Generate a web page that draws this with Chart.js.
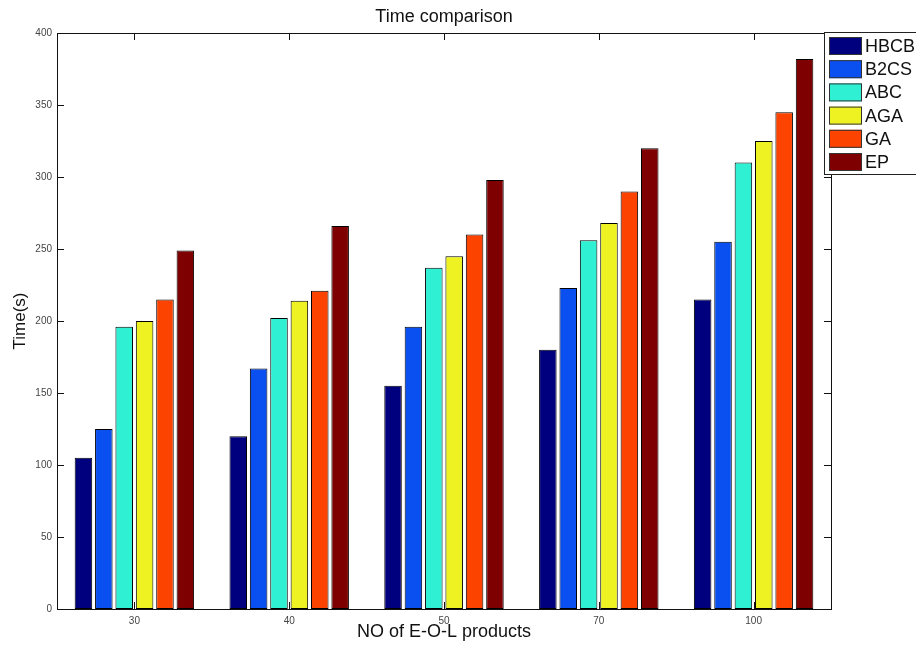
<!DOCTYPE html>
<html>
<head>
<meta charset="utf-8">
<script src="https://cdn.jsdelivr.net/npm/chart.js@4"></script>
<style>
  html, body { margin: 0; padding: 0; background: #fff; }
  #wrap { width: 916px; height: 651px; }
</style>
</head>
<body>
<div id="wrap"><canvas id="timeChart" width="916" height="651"></canvas></div>
<script>
const categories = ['30', '40', '50', '70', '100'];
const seriesNames = ['HBCB', 'B2CS', 'ABC', 'AGA', 'GA', 'EP'];
const hbcb = [105, 120, 155, 180, 215];
const b2cs = [125, 167, 196, 223, 255];
const abc = [196, 202, 237, 256, 310];
const aga = [200, 214, 245, 268, 325];
const ga = [215, 221, 260, 290, 345];
const ep = [249, 266, 298, 320, 382];
const yTicks = [0, 50, 100, 150, 200, 250, 300, 350, 400];

const colors = ['#00007f', '#0a50f0', '#30f0d4', '#eef222', '#fc4300', '#7f0000'];
const FONT = '"Liberation Sans", Arial, sans-serif';

const values = [hbcb, b2cs, abc, aga, ga, ep];

// white background, box, inward ticks, title and legend (matlab look)
const matlabFrame = {
  id: 'matlabFrame',
  beforeDraw(chart) {
    const c = chart.ctx;
    c.save();
    c.fillStyle = '#fff';
    c.fillRect(0, 0, chart.width, chart.height);
    c.restore();
  },
  afterDraw(chart) {
    const c = chart.ctx;
    const a = chart.chartArea;
    const xs = chart.scales.x;
    const ys = chart.scales.y;
    c.save();
    c.strokeStyle = '#111';
    c.lineWidth = 1;
    c.strokeRect(Math.round(a.left) + 0.5, Math.round(a.top) + 0.5,
      Math.round(a.right - a.left), Math.round(a.bottom - a.top));

    const len = 7;
    c.beginPath();
    yTicks.forEach(v => {
      const y = Math.round(ys.getPixelForValue(v)) + 0.5;
      c.moveTo(a.left, y); c.lineTo(a.left + len, y);
      c.moveTo(a.right, y); c.lineTo(a.right - len, y);
    });
    categories.forEach((cat, i) => {
      const x = Math.round(xs.getPixelForValue(i)) + 0.5;
      c.moveTo(x, a.bottom); c.lineTo(x, a.bottom - len);
      c.moveTo(x, a.top); c.lineTo(x, a.top + len);
    });
    c.stroke();

    // title
    c.fillStyle = '#111';
    c.font = '18px ' + FONT;
    c.textAlign = 'center';
    c.textBaseline = 'middle';
    c.fillText('Time comparison', (a.left + a.right) / 2, 17);

    // legend box, overlapping the top right corner
    const lx = 824, ly = 32, lw = 100, lh = 142;
    c.fillStyle = '#fff';
    c.fillRect(lx, ly, lw, lh);
    c.strokeStyle = '#222';
    c.strokeRect(lx + 0.5, ly + 0.5, lw, lh);
    c.font = '18px ' + FONT;
    c.textAlign = 'left';
    chart.data.datasets.forEach((ds, i) => {
      const cy = ly + 14 + i * 23.2;
      c.fillStyle = ds.backgroundColor;
      c.fillRect(lx + 5, cy - 9, 33, 18);
      c.strokeStyle = '#333';
      c.strokeRect(lx + 5.5, cy - 8.5, 32, 17);
      c.fillStyle = '#111';
      c.fillText(ds.label, lx + 41, cy + 1);
    });
    c.restore();
  }
};

const ctx = document.getElementById('timeChart').getContext('2d');

const timeChart = new Chart(ctx, {
  type: 'bar',
  data: {
    labels: categories,
    datasets: seriesNames.map((name, i) => ({
      label: name,
      data: values[i],
      backgroundColor: colors[i],
      borderColor: '#000',
      borderWidth: 1,
      borderSkipped: false,
      categoryPercentage: 0.79,
      barPercentage: 0.86,
    }))
  },
  options: {
    responsive: false,
    animation: false,
    devicePixelRatio: 1,
    layout: { padding: { top: 33, right: 85, left: 0, bottom: 0 } },
    plugins: {
      legend: { display: false },
      title: { display: false },
      tooltip: { enabled: false },
    },
    scales: {
      x: {
        grid: { display: false, drawTicks: false },
        border: { display: false },
        ticks: { color: '#444', font: { family: FONT, size: 10 }, padding: 6, maxRotation: 0 },
        title: {
          display: true,
          text: 'NO of E-O-L products',
          color: '#111',
          font: { family: FONT, size: 18 },
          padding: { top: 0, bottom: 8 },
        },
        afterFit: (scale) => { scale.height = 42; },
      },
      y: {
        min: 0,
        max: 400,
        grid: { display: false, drawTicks: false },
        border: { display: false },
        ticks: { stepSize: 50, color: '#444', font: { family: FONT, size: 10 }, padding: 5 },
        title: {
          display: true,
          text: 'Time(s)',
          color: '#111',
          font: { family: FONT, size: 17 },
          padding: { top: 10, bottom: 0 },
        },
        afterFit: (scale) => { scale.width = 57; },
      }
    }
  },
  plugins: [matlabFrame]
});
</script>
</body>
</html>
